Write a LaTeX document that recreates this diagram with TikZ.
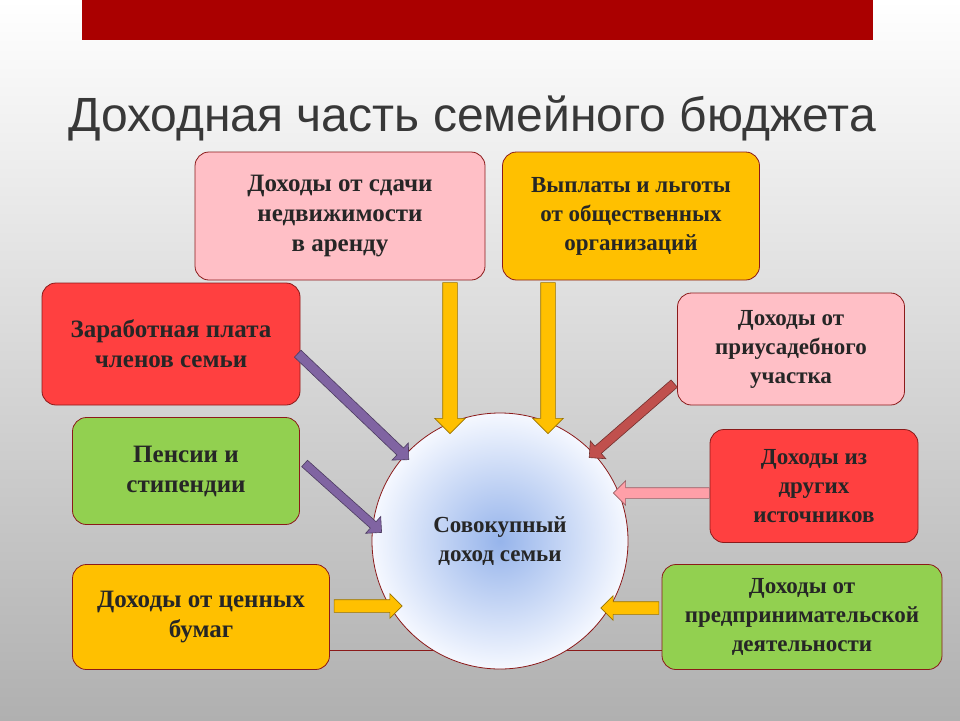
\documentclass[tikz,border=0pt]{standalone}
\usepackage{fontspec}
\setmainfont{Liberation Serif}
\newfontfamily\titlefont{Liberation Sans}
\usetikzlibrary{shapes.arrows,calc}
\definecolor{boxpink}{HTML}{FFBFC6}
\definecolor{boxorange}{HTML}{FFC000}
\definecolor{boxred}{HTML}{FF4040}
\definecolor{boxgreen}{HTML}{92D050}
\definecolor{arrpurple}{HTML}{8064A2}
\definecolor{arrred}{HTML}{C0504D}
\definecolor{arrpink}{HTML}{FF9FA8}
\definecolor{edge}{HTML}{8B1A1A}
\tikzset{
  infobox/.style={draw=edge, line width=0.8pt, rounded corners=14pt, align=center,
    font=\bfseries\fontsize{25}{30}\selectfont, text=black!85, inner sep=0pt},
  smalltext/.style={font=\bfseries\fontsize{23}{29}\selectfont},
}
\newcommand\barrow[5]{%
  \path let \p1=(#1), \p2=(#2), \n1={atan2(\y2-\y1,\x2-\x1)}, \n2={veclen(\x2-\x1,\y2-\y1)} in
    node[single arrow, draw=#3!60!black, fill=#3, line width=0.6pt, minimum height=\n2,
      single arrow head extend=#5, inner xsep=0pt, inner ysep=0pt, rotate=\n1]
      at ($(#1)!0.5!(#2)$) {\rule{0pt}{#4}};}
\begin{document}
\begin{tikzpicture}[x=1pt,y=-1pt]
\shade[top color=white, middle color=gray!20, bottom color=gray!62] (0,0) rectangle (960,720);
\useasboundingbox (0,0) rectangle (960,720);
\fill[fill={rgb,255:red,170;green,0;blue,0}] (82,0) rectangle (873,40);
\node[font=\titlefont\fontsize{48}{54}\selectfont, text=black!78] (title) at (472,118) {Доходная часть семейного бюджета};

\node[infobox, fill=boxpink, minimum width=290pt, minimum height=128pt] (b1) at (340,216) {Доходы от сдачи\\недвижимости\\ в аренду};
\node[infobox, smalltext, fill=boxorange, minimum width=257pt, minimum height=128pt] (b2) at (631,216) {Выплаты и льготы\\от общественных\\организаций};
\node[infobox, fill=boxred, minimum width=258pt, minimum height=122pt] (b3) at (171,344) {Заработная плата\\членов семьи};
\node[infobox, smalltext, fill=boxpink, minimum width=227pt, minimum height=112pt] (b4) at (791,349) {Доходы от\\приусадебного\\участка};
\node[infobox, fill=boxgreen, minimum width=227pt, minimum height=107pt] (b5) at (186,471) {Пенсии и\\стипендии};
\node[infobox, smalltext, fill=boxred, minimum width=208pt, minimum height=113pt] (b6) at (814,486) {Доходы из\\других\\источников};
\node[infobox, fill=boxorange, minimum width=257pt, minimum height=105pt] (b7) at (201,617) {Доходы от ценных\\бумаг};
\node[infobox, smalltext, fill=boxgreen, minimum width=280pt, minimum height=105pt] (b8) at (802,617) {Доходы от\\предпринимательской\\деятельности};

\draw[edge, line width=1pt] (b7.east |- 0,650) coordinate (l1) -- (b8.west |- 0,650) coordinate (l2);
\node[circle, draw=edge, line width=0.8pt, minimum size=256pt, inner color={rgb,255:red,150;green,180;blue,235}, outer color={rgb,255:red,245;green,248;blue,255}, align=center, font=\bfseries\fontsize{23}{29}\selectfont, text=black!85] (c) at (500,541) {Совокупный\\доход семьи};

\coordinate (a1s) at (450,279); \coordinate (a1e) at (450,430);
\coordinate (a2s) at (548,279); \coordinate (a2e) at (548,430);
\barrow{a1s}{a1e}{boxorange}{14pt}{8pt}
\barrow{a2s}{a2e}{boxorange}{14pt}{8pt}
\coordinate (a3s) at (296,352); \coordinate (a3e) at (407,458);
\barrow{a3s}{a3e}{arrpurple}{9pt}{7pt}
\coordinate (a4s) at (303,462); \coordinate (a4e) at (380,531);
\barrow{a4s}{a4e}{arrpurple}{8pt}{7pt}
\coordinate (a5s) at (676,382); \coordinate (a5e) at (591,456);
\barrow{a5s}{a5e}{arrred}{9pt}{7pt}
\coordinate (a6s) at (712,493); \coordinate (a6e) at (616,493);
\barrow{a6s}{a6e}{arrpink}{10pt}{7pt}
\coordinate (a7s) at (331,606); \coordinate (a7e) at (399,606);
\barrow{a7s}{a7e}{boxorange}{12pt}{6pt}
\coordinate (a8s) at (662,608); \coordinate (a8e) at (604,608);
\barrow{a8s}{a8e}{boxorange}{12pt}{6pt}
\end{tikzpicture}
\end{document}
